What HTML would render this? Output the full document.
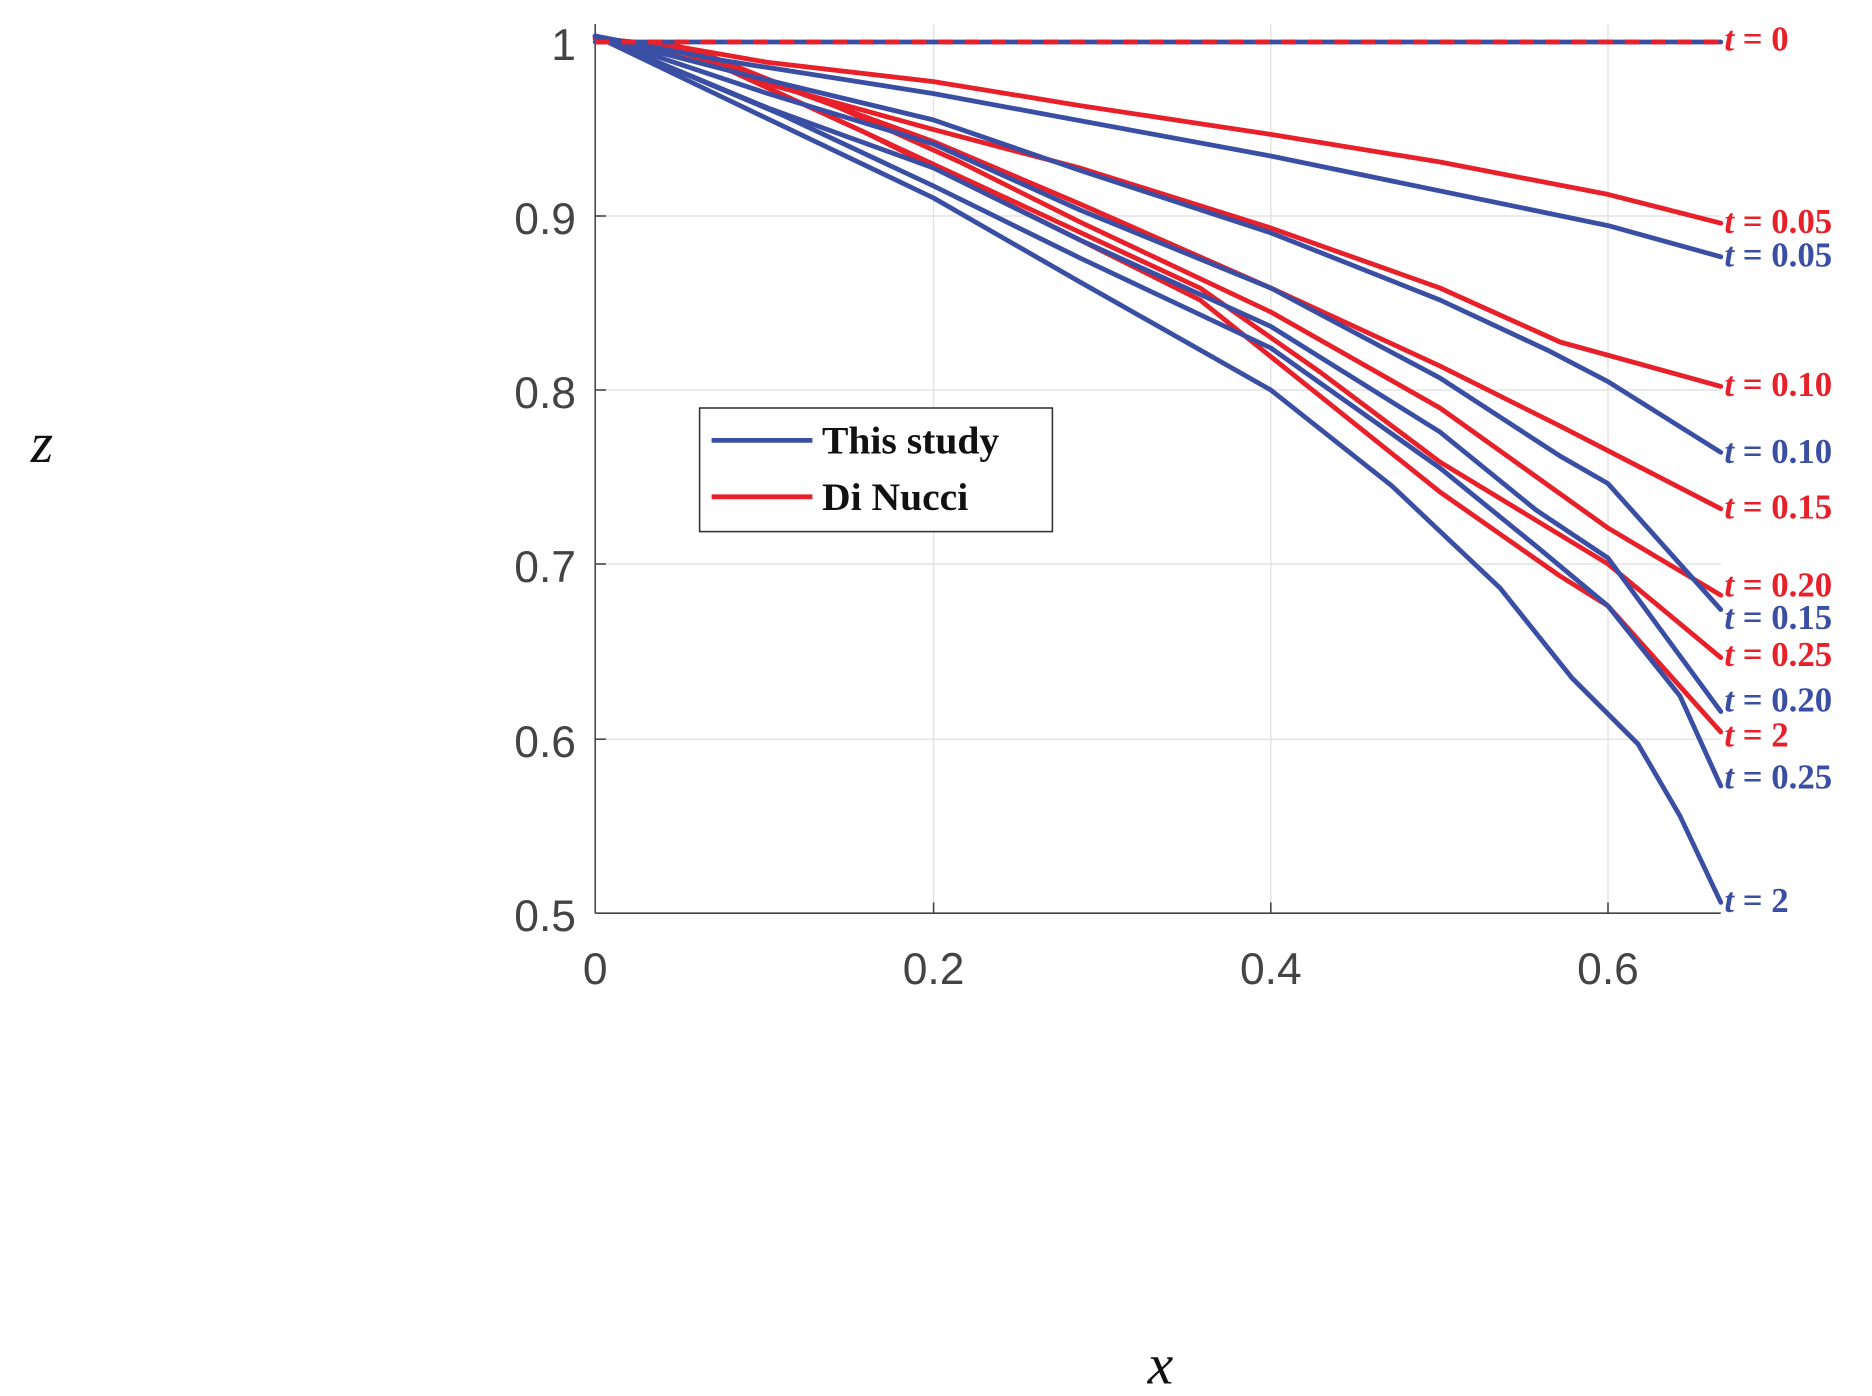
<!DOCTYPE html>
<html><head><meta charset="utf-8"><style>html,body{margin:0;padding:0;background:#fff}svg{display:block}</style></head>
<body>
<svg width="1872" height="1396" viewBox="0 0 1872 1396" xmlns="http://www.w3.org/2000/svg">
<g transform="scale(1.2)">
<rect x="0" y="0" width="1560" height="1164" fill="#fff"/>
<g stroke="#e3e3e3" stroke-width="1.2">
<line x1="778" y1="20" x2="778" y2="761"/><line x1="1059" y1="20" x2="1059" y2="761"/><line x1="1340" y1="20" x2="1340" y2="761"/>
<line x1="496" y1="180" x2="1434" y2="180"/><line x1="496" y1="325" x2="1434" y2="325"/><line x1="496" y1="470" x2="1434" y2="470"/><line x1="496" y1="616" x2="1434" y2="616"/>
</g>
<g stroke="#444" stroke-width="1.3">
<line x1="496" y1="20" x2="496" y2="761"/><line x1="496" y1="761" x2="1434" y2="761"/>
<line x1="778" y1="761" x2="778" y2="752"/><line x1="1059" y1="761" x2="1059" y2="752"/><line x1="1340" y1="761" x2="1340" y2="752"/>
<line x1="496" y1="35" x2="505" y2="35"/><line x1="496" y1="180" x2="505" y2="180"/><line x1="496" y1="325" x2="505" y2="325"/><line x1="496" y1="470" x2="505" y2="470"/><line x1="496" y1="616" x2="505" y2="616"/>
</g>
<g font-family="Liberation Sans, sans-serif" font-size="37" fill="#444" text-anchor="end">
<text x="480" y="50">1</text><text x="480" y="195">0.9</text><text x="480" y="340">0.8</text><text x="480" y="485">0.7</text><text x="480" y="631">0.6</text><text x="480" y="776">0.5</text>
</g>
<g font-family="Liberation Sans, sans-serif" font-size="37" fill="#444" text-anchor="middle">
<text x="496" y="820">0</text><text x="778" y="820">0.2</text><text x="1059" y="820">0.4</text><text x="1340" y="820">0.6</text>
</g>
<text x="35" y="385" font-family="Liberation Serif, serif" font-style="italic" font-size="48" fill="#111" text-anchor="middle">z</text>
<text x="967" y="1153" font-family="Liberation Serif, serif" font-style="italic" font-size="48" fill="#111" text-anchor="middle">x</text>
<g fill="none" stroke-width="4" stroke-linejoin="round" stroke-linecap="round">
<polyline stroke="#e8202a" points="496,32 560,38 640,52 778,68 900,88 1059,112 1200,135 1340,162 1434,186"/>
<polyline stroke="#e8202a" points="496,32 560,38 640,70 778,108 900,140 1059,190 1200,240 1300,285 1434,322"/>
<polyline stroke="#e8202a" points="496,32 560,40 640,68 778,118 900,170 1059,240 1200,305 1300,355 1434,424"/>
<polyline stroke="#e8202a" points="496,32 580,42 700,90 800,135 900,185 1059,260 1200,340 1340,440 1434,496"/>
<polyline stroke="#e8202a" points="496,32 600,55 720,110 860,175 1000,240 1100,310 1200,385 1340,470 1434,548"/>
<polyline stroke="#e8202a" points="496,32 600,55 720,110 860,180 1000,250 1100,330 1200,410 1300,480 1340,505 1434,610"/>
<polyline stroke="#3a4fa3" points="496,30 600,50 778,78 1059,130 1340,188 1434,214"/>
<polyline stroke="#3a4fa3" points="496,30 620,62 778,100 900,142 1059,194 1200,250 1290,292 1340,318 1434,377"/>
<polyline stroke="#3a4fa3" points="496,30 640,78 778,120 900,175 1059,240 1200,315 1300,380 1340,403 1434,508"/>
<polyline stroke="#3a4fa3" points="496,30 640,90 778,140 900,200 1059,272 1200,360 1280,425 1340,465 1434,593"/>
<polyline stroke="#3a4fa3" points="496,30 650,95 778,155 900,215 1059,290 1200,390 1280,455 1340,505 1400,580 1434,655"/>
<polyline stroke="#3a4fa3" points="496,30 600,80 778,165 900,235 1059,325 1160,405 1250,490 1310,565 1340,595 1365,620 1400,680 1434,752"/>
<line x1="496" y1="35" x2="1434" y2="35" stroke="#3a4fa3"/>
<line x1="496" y1="35" x2="1434" y2="35" stroke="#e8202a" stroke-dasharray="12 10" stroke-linecap="butt"/>
</g>
<g font-family="Liberation Serif, serif" font-size="29" font-weight="bold">
<text x="1437" y="42" fill="#e8202a"><tspan font-style="italic">t</tspan> = 0</text>
<text x="1437" y="194" fill="#e8202a"><tspan font-style="italic">t</tspan> = 0.05</text>
<text x="1437" y="222" fill="#3a4fa3"><tspan font-style="italic">t</tspan> = 0.05</text>
<text x="1437" y="330" fill="#e8202a"><tspan font-style="italic">t</tspan> = 0.10</text>
<text x="1437" y="386" fill="#3a4fa3"><tspan font-style="italic">t</tspan> = 0.10</text>
<text x="1437" y="432" fill="#e8202a"><tspan font-style="italic">t</tspan> = 0.15</text>
<text x="1437" y="497" fill="#e8202a"><tspan font-style="italic">t</tspan> = 0.20</text>
<text x="1437" y="524" fill="#3a4fa3"><tspan font-style="italic">t</tspan> = 0.15</text>
<text x="1437" y="555" fill="#e8202a"><tspan font-style="italic">t</tspan> = 0.25</text>
<text x="1437" y="593" fill="#3a4fa3"><tspan font-style="italic">t</tspan> = 0.20</text>
<text x="1437" y="622" fill="#e8202a"><tspan font-style="italic">t</tspan> = 2</text>
<text x="1437" y="657" fill="#3a4fa3"><tspan font-style="italic">t</tspan> = 0.25</text>
<text x="1437" y="760" fill="#3a4fa3"><tspan font-style="italic">t</tspan> = 2</text>
</g>
<rect x="583" y="340" width="294" height="103" fill="#fff" stroke="#333" stroke-width="1.3"/>
<line x1="593" y1="367" x2="677" y2="367" stroke="#3a4fa3" stroke-width="4"/>
<line x1="593" y1="414" x2="677" y2="414" stroke="#e8202a" stroke-width="4"/>
<g font-family="Liberation Serif, serif" font-size="33" font-weight="bold" fill="#111">
<text x="685" y="378">This study</text>
<text x="685" y="425">Di Nucci</text>
</g>
</g>
</svg>
</body></html>
